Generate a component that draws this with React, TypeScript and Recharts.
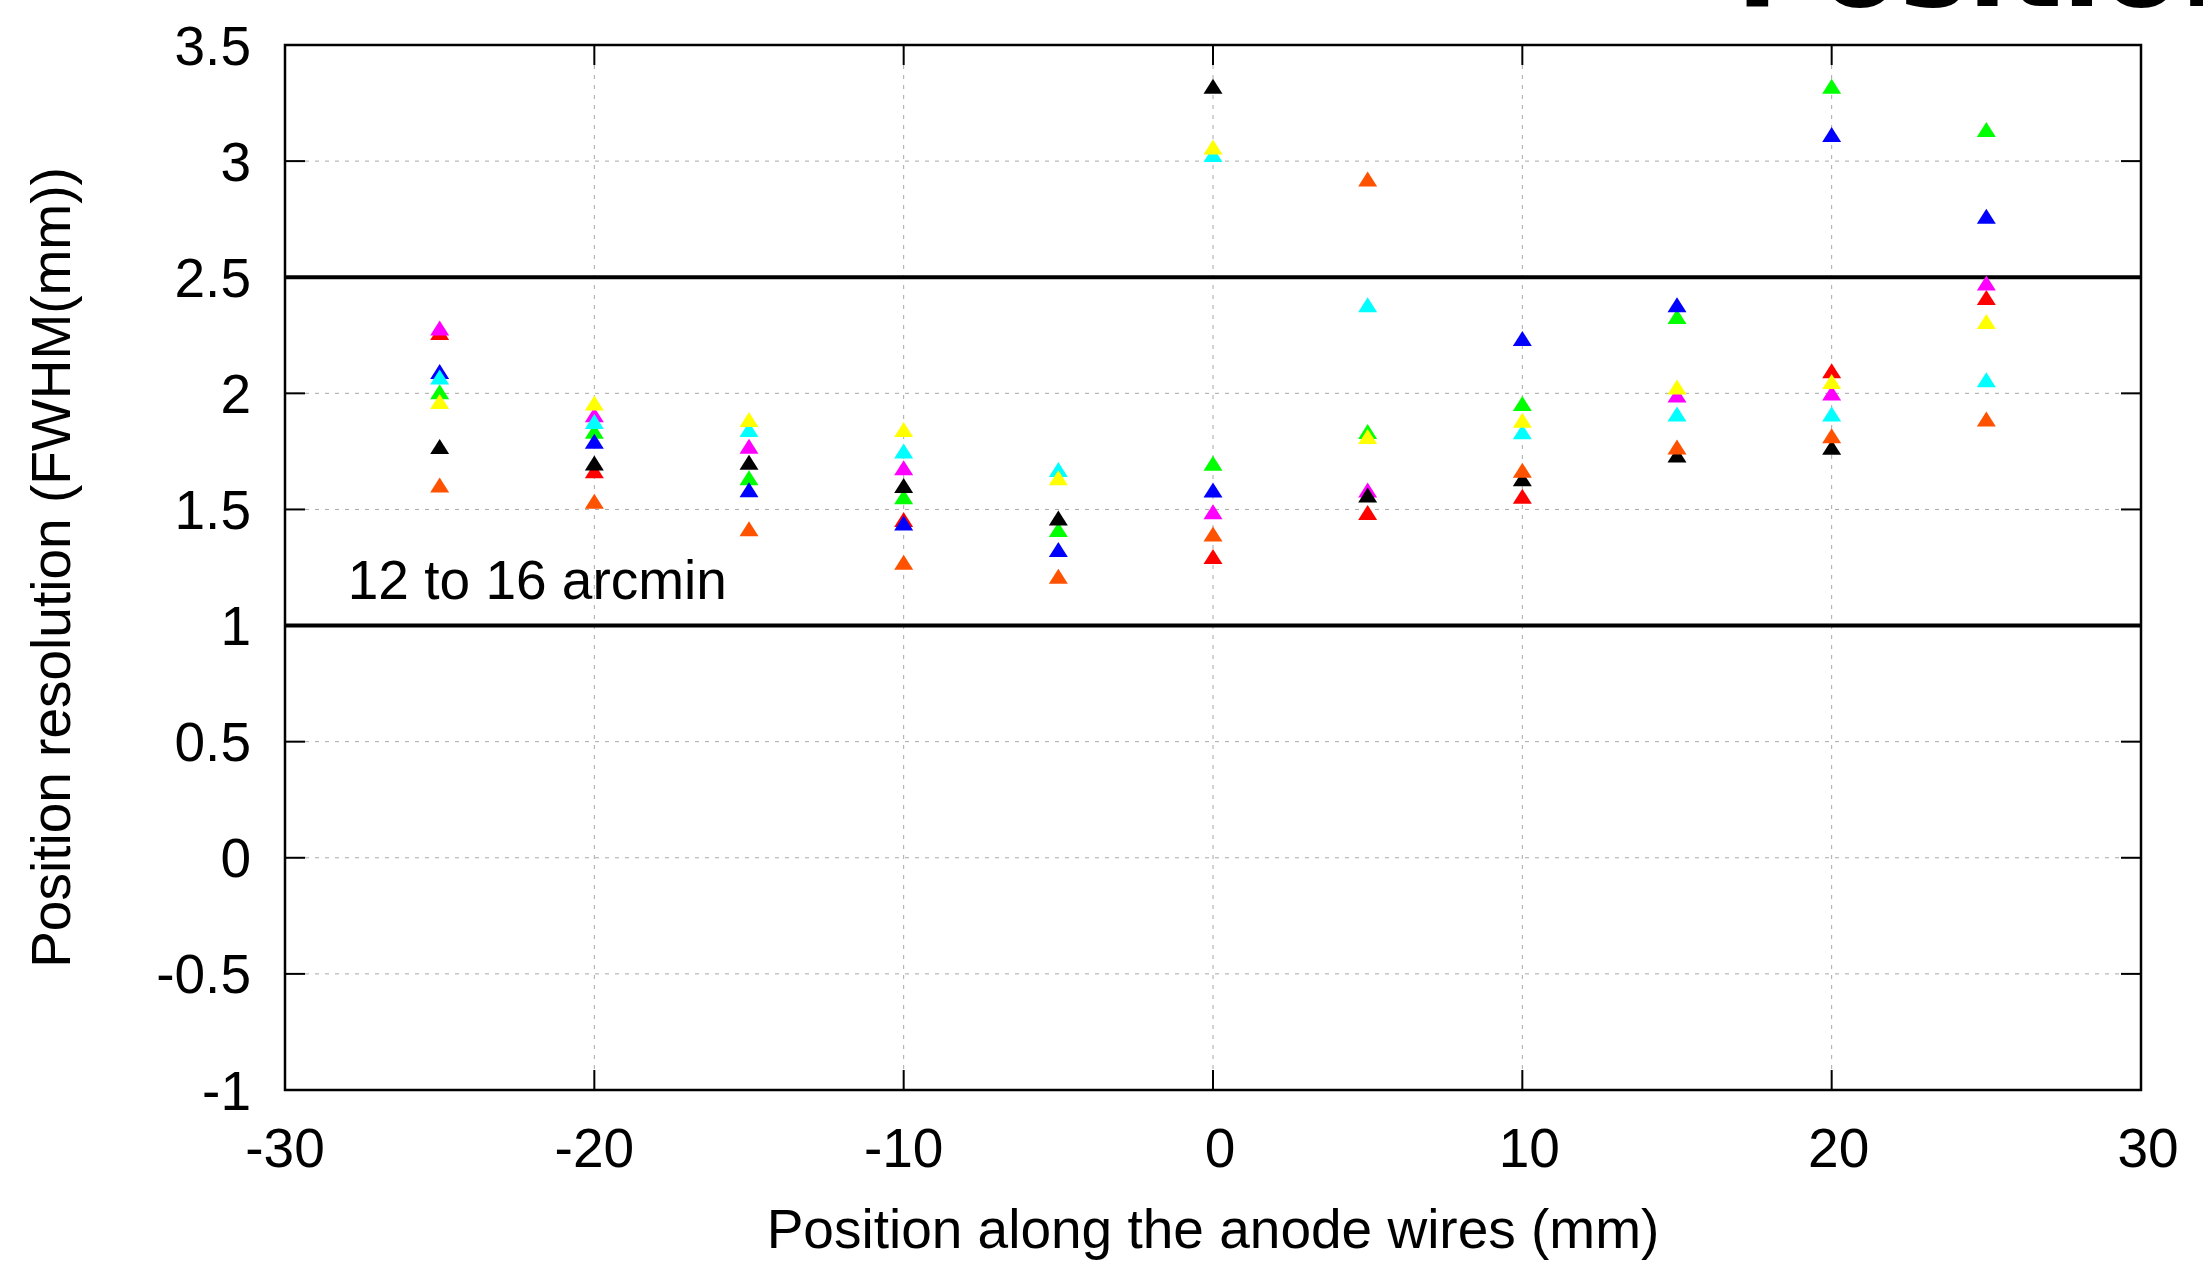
import React from "react";
import {
  ScatterChart,
  Scatter,
  XAxis,
  YAxis,
  CartesianGrid,
  ReferenceLine,
  ReferenceArea,
  ReferenceDot,
} from "recharts";

// positions along the anode wires (mm)
const POSITIONS = [-25, -20, -15, -10, -5, 0, 5, 10, 15, 20, 25];

// FWHM (mm) per run, null where no point is drawn
const RED = [2.26, 1.665, null, 1.455, null, 1.295, 1.485, 1.555, null, 2.095, 2.41];
const GREEN = [2.005, 1.835, 1.634, 1.552, 1.411, 1.697, 1.833, 1.954, 2.329, 3.32, 3.134];
const BLUE = [2.092, 1.791, 1.583, 1.44, 1.325, 1.582, null, 2.234, 2.379, 3.112, 2.76];
const MAGENTA = [2.279, 1.906, 1.77, 1.677, null, 1.488, 1.582, null, 1.991, 1.999, 2.473];
const CYAN = [2.068, 1.877, 1.842, 1.749, 1.67, 3.026, 2.379, 1.832, 1.909, 1.909, 2.056];
const YELLOW = [1.963, 1.956, 1.885, 1.842, 1.634, 3.059, 1.812, 1.882, 2.025, 2.049, 2.307];
const BLACK = [1.769, 1.698, 1.701, 1.601, 1.461, 3.32, 1.56, 1.63, 1.732, 1.766, null];
const ORANGE = [1.603, 1.533, 1.415, 1.27, 1.21, 1.392, 2.921, 1.667, 1.767, 1.815, 1.887];

const X_TICKS = [-30, -20, -10, 0, 10, 20, 30];
const Y_TICKS = [-1, -0.5, 0, 0.5, 1, 1.5, 2, 2.5, 3, 3.5];
const BAND = [1, 2.5];
const NOTE = "12 to 16 arcmin";
const NOTE_AT = { x: -27.97, y: 1.115 };
const TITLE = "Position resolution";

const SERIES = [
  { name: "red", color: "#ff0000", values: RED },
  { name: "green", color: "#00ff00", values: GREEN },
  { name: "blue", color: "#0000ff", values: BLUE },
  { name: "magenta", color: "#ff00ff", values: MAGENTA },
  { name: "cyan", color: "#00ffff", values: CYAN },
  { name: "yellow", color: "#ffff00", values: YELLOW },
  { name: "black", color: "#000000", values: BLACK },
  { name: "orange", color: "#ff5200", values: ORANGE },
];

const W = 2203;
const H = 1268;
const PLOT_LEFT = 285;
const PLOT_RIGHT = 2141;
const PLOT_TOP = 45;
const PLOT_BOTTOM = 1090;
const TICK_LEN = 20;
const FONT = "'Liberation Sans', Arial, sans-serif";

const toPoints = (values: (number | null)[]) =>
  POSITIONS.map((x, i) => ({ x, y: values[i] })).filter((p) => p.y !== null);

function Triangle(props: any) {
  const { cx, cy, fill } = props;
  if (cx == null || cy == null) return null;
  const pts = `${cx - 9.5},${cy + 7} ${cx + 9.5},${cy + 7} ${cx},${cy - 8}`;
  return <polygon points={pts} fill={fill} />;
}

function XTick(props: any) {
  const { x, payload } = props;
  const v = payload.value;
  return (
    <g>
      <line x1={x} x2={x} y1={PLOT_BOTTOM} y2={PLOT_BOTTOM - TICK_LEN} stroke="#000" strokeWidth={2} />
      <line x1={x} x2={x} y1={PLOT_TOP} y2={PLOT_TOP + TICK_LEN} stroke="#000" strokeWidth={2} />
      <text
        x={x + (v >= 0 ? 7 : 0)}
        y={PLOT_BOTTOM + 77}
        textAnchor="middle"
        fontFamily={FONT}
        fontSize={55}
        fill="#000"
      >
        {v}
      </text>
    </g>
  );
}

function YTick(props: any) {
  const { y, payload } = props;
  return (
    <g>
      <line x1={PLOT_LEFT} x2={PLOT_LEFT + TICK_LEN} y1={y} y2={y} stroke="#000" strokeWidth={2} />
      <line x1={PLOT_RIGHT} x2={PLOT_RIGHT - TICK_LEN} y1={y} y2={y} stroke="#000" strokeWidth={2} />
      <text x={PLOT_LEFT - 34} y={y + 19.5} textAnchor="end" fontFamily={FONT} fontSize={55} fill="#000">
        {payload.value}
      </text>
    </g>
  );
}

function NoteLabel(props: any) {
  const vb = props.viewBox || {};
  const x = (vb.x ?? 0) + (vb.width ?? 0) / 2;
  const y = (vb.y ?? 0) + (vb.height ?? 0) / 2;
  return (
    <text x={x} y={y} fontFamily={FONT} fontSize={55} fill="#000">
      {NOTE}
    </text>
  );
}

export default function App() {
  return (
    <div style={{ position: "absolute", left: 0, top: 0, width: W, height: H, background: "#fff", overflow: "hidden" }}>
      <ScatterChart
        width={W}
        height={H}
        margin={{ top: PLOT_TOP, right: W - PLOT_RIGHT, bottom: 0, left: 0 }}
      >
        <CartesianGrid stroke="#a8a8a8" strokeDasharray="4 6" strokeWidth={1} />
        <XAxis
          type="number"
          dataKey="x"
          domain={[-30, 30]}
          ticks={X_TICKS}
          height={H - PLOT_BOTTOM}
          axisLine={false}
          tickLine={false}
          tick={<XTick />}
          interval={0}
          label={{
            content: () => (
              <text
                x={(PLOT_LEFT + PLOT_RIGHT) / 2}
                y={PLOT_BOTTOM + 158}
                textAnchor="middle"
                fontFamily={FONT}
                fontSize={55}
                fill="#000"
              >
                Position along the anode wires (mm)
              </text>
            ),
          }}
        />
        <YAxis
          type="number"
          dataKey="y"
          domain={[-1, 3.5]}
          ticks={Y_TICKS}
          width={PLOT_LEFT}
          axisLine={false}
          tickLine={false}
          tick={<YTick />}
          interval={0}
          label={{
            content: () => (
              <text
                x={69.5}
                y={(PLOT_TOP + PLOT_BOTTOM) / 2}
                transform={`rotate(-90, 69.5, ${(PLOT_TOP + PLOT_BOTTOM) / 2})`}
                textAnchor="middle"
                fontFamily={FONT}
                fontSize={55}
                fill="#000"
              >
                Position resolution (FWHM(mm))
              </text>
            ),
          }}
        />
        <ReferenceArea x1={-30} x2={30} y1={-1} y2={3.5} fill="none" fillOpacity={0} stroke="#000" strokeWidth={2.5} />
        {SERIES.map((s) => (
          <Scatter
            key={s.name}
            name={s.name}
            data={toPoints(s.values)}
            fill={s.color}
            shape={<Triangle />}
            isAnimationActive={false}
          />
        ))}
        {BAND.map((b) => (
          <ReferenceLine key={b} y={b} stroke="#000" strokeWidth={4} />
        ))}
        <ReferenceDot x={NOTE_AT.x} y={NOTE_AT.y} r={1} fill="none" stroke="none" label={<NoteLabel />} />
      </ScatterChart>
      <svg width={W} height={H} style={{ position: "absolute", left: 0, top: 0, pointerEvents: "none" }}>
        <text x={1736} y={6} fontFamily="'DejaVu Sans', sans-serif" fontWeight="bold" fontSize={115} fill="#000">
          {TITLE}
        </text>
      </svg>
    </div>
  );
}
